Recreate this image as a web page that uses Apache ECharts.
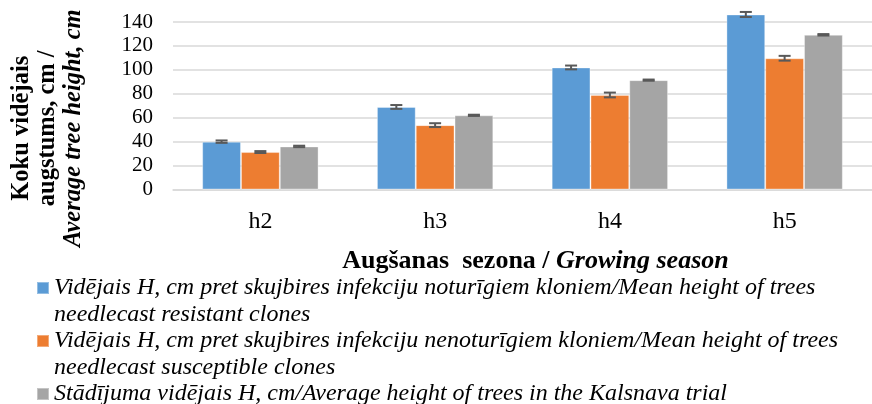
<!DOCTYPE html>
<html>
<head>
<meta charset="utf-8">
<script src="https://cdn.jsdelivr.net/npm/echarts@6/dist/echarts.min.js"></script>
<style>
  html, body { margin: 0; padding: 0; background: #fff; }
  #chart { width: 872px; height: 404px; }
</style>
</head>
<body>
<div id="chart"></div>
<script>
// kategorijas (augšanas sezona)
const seasons = ['h2', 'h3', 'h4', 'h5']

// vidējie augstumi, cm
const resistant = [40, 69, 102, 146.3]
const susceptible = [31.3, 53.8, 79, 109.7]
const trial = [36, 62, 91.4, 129.3]

// kļūdu joslas (±), cm
const resistantErr = [1, 1.6, 1.6, 2.1]
const susceptibleErr = [0.8, 1.6, 2, 2]
const trialErr = [0.6, 0.5, 0.5, 0.6]

const yTicks = [0, 140, 20] // min, max, interval

const seriesNames = [
  'Vidējais H, cm pret skujbires infekciju noturīgiem kloniem/Mean height of trees\nneedlecast resistant clones',
  'Vidējais H, cm pret skujbires infekciju nenoturīgiem kloniem/Mean height of trees\nneedlecast susceptible clones',
  'Stādījuma vidējais H, cm/Average height of trees in the Kalsnava trial'
]
const colors = ['#5B9BD5', '#ED7D31', '#A5A5A5']

const FONT = 'Liberation Serif'
const BAR_SHARE = 0.222
const LH = 26.5

const chart = echarts.init(document.getElementById('chart'))

// kļūdu joslas kā custom sērija
const errorSeries = (vals, errs, idx) => ({
  type: 'custom',
  silent: true,
  clip: false,
  z: 10,
  data: vals.map((v, i) => [i, v, errs[i]]),
  renderItem: (params, api) => {
    const band = api.size([1, 0])[0]
    const off = (idx - 1) * band * BAR_SHARE
    const top = api.coord([api.value(0), api.value(1) + api.value(2)])
    const bot = api.coord([api.value(0), api.value(1) - api.value(2)])
    const x = top[0] + off
    const w = 6
    const st = { stroke: '#595959', lineWidth: 2 }
    return {
      type: 'group',
      children: [
        { type: 'line', shape: { x1: x, y1: top[1], x2: x, y2: bot[1] }, style: st },
        { type: 'line', shape: { x1: x - w, y1: top[1], x2: x + w, y2: top[1] }, style: st },
        { type: 'line', shape: { x1: x - w, y1: bot[1], x2: x + w, y2: bot[1] }, style: st }
      ]
    }
  }
})

const barSeries = (name, vals, idx) => ({
  name: name,
  type: 'bar',
  data: vals,
  barWidth: (BAR_SHARE * 100) + '%',
  barGap: '0%',
  clip: false,
  itemStyle: { color: colors[idx], borderColor: 'rgba(255,255,255,0.35)', borderWidth: 1 }
})

const legendText = { fontFamily: FONT, fontStyle: 'italic', fontSize: 24, color: '#000', lineHeight: LH }

// divrindu ierakstiem tukša rinda augšā, lai ikona būtu pie pirmās rindas
const legendItem = (name, top) => ({
  data: [name],
  orient: 'vertical',
  left: 36,
  top: top,
  padding: 0,
  icon: 'rect',
  itemWidth: 12,
  itemHeight: 12,
  formatter: n => {
    const parts = n.split('\n')
    if (parts.length === 1) return '{t|' + n + '}'
    return '{s| }\n' + parts.map(p => '{t|' + p + '}').join('\n')
  },
  textStyle: {
    ...legendText,
    rich: {
      t: legendText,
      s: { fontSize: 10, lineHeight: LH }
    }
  }
})

const option = {
  animation: false,
  color: colors,
  grid: { left: 173, right: -4, top: 22, bottom: 214.5 },
  legend: [
    legendItem(seriesNames[0], 288 - LH * 1.5),
    legendItem(seriesNames[1], 341 - LH * 1.5),
    legendItem(seriesNames[2], 394 - LH * 0.5)
  ],
  xAxis: {
    type: 'category',
    data: seasons,
    axisLine: { lineStyle: { color: '#d9d9d9', width: 1.5 } },
    axisTick: { show: false },
    axisLabel: { fontFamily: FONT, fontSize: 24, color: '#000', margin: 20 },
    name: 'Augšanas  sezona / {i|Growing season}',
    nameLocation: 'middle',
    nameGap: 59,
    nameTextStyle: {
      fontFamily: FONT, fontSize: 26, fontWeight: 'bold', color: '#000',
      padding: [0, 0, 0, 26],
      rich: { i: { fontFamily: FONT, fontSize: 26, fontWeight: 'bold', fontStyle: 'italic', color: '#000' } }
    }
  },
  yAxis: {
    type: 'value',
    min: yTicks[0],
    max: yTicks[1],
    interval: yTicks[2],
    axisLine: { show: false },
    axisTick: { show: false },
    splitLine: { lineStyle: { color: '#d9d9d9', width: 1.5 } },
    axisLabel: { fontFamily: FONT, fontSize: 21, color: '#000', margin: 20 },
    name: '{b|Koku vidējais}\n{b|augstums, cm /}\n{bi|Average tree height, cm}',
    nameLocation: 'middle',
    nameRotate: 90,
    nameGap: 86,
    nameTextStyle: {
      padding: [0, 45, 0, 0],
      rich: {
        b: { fontFamily: FONT, fontSize: 24.5, fontWeight: 'bold', color: '#000', lineHeight: 26 },
        bi: { fontFamily: FONT, fontSize: 24.5, fontWeight: 'bold', fontStyle: 'italic', color: '#000', lineHeight: 26 }
      }
    }
  },
  series: [
    barSeries(seriesNames[0], resistant, 0),
    barSeries(seriesNames[1], susceptible, 1),
    barSeries(seriesNames[2], trial, 2),
    errorSeries(resistant, resistantErr, 0),
    errorSeries(susceptible, susceptibleErr, 1),
    errorSeries(trial, trialErr, 2)
  ]
}

chart.setOption(option)
window.addEventListener('resize', () => {
  chart.resize()
})
</script>
</body>
</html>
